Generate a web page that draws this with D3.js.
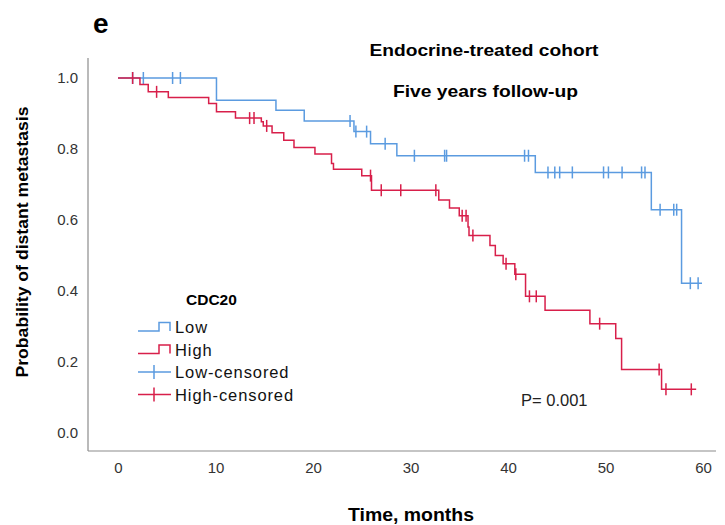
<!DOCTYPE html>
<html>
<head>
<meta charset="utf-8">
<script src="https://cdn.jsdelivr.net/npm/d3@7"></script>
<style>
  html, body { margin: 0; padding: 0; background: #fff; }
  svg { display: block; font-family: "Liberation Sans", Arial, sans-serif; }
</style>
</head>
<body>
<svg id="chart" width="725" height="525"></svg>
<script>
// Kaplan-Meier estimates: event times (months) and survival level after each step
const lowTimes  = [0, 10.1, 16.2, 19.1, 24.2, 25.9, 28.6, 42.8, 54.7, 57.8];
const lowValues = [1.0, 0.937, 0.909, 0.879, 0.849, 0.815, 0.781, 0.734, 0.629, 0.422];
const lowEnd = 59.9;
const lowCensored = [1.5, 2.6, 5.6, 6.4, 23.8, 24.4, 25.5, 27.4, 30.4, 33.5, 33.7, 41.7, 42.1,
  44.1, 44.8, 45.3, 46.6, 49.8, 50.3, 51.7, 53.7, 54.05, 55.6, 57.0, 57.3, 58.7, 59.5];

const highTimes  = [0, 2.25, 3.1, 5.16, 9.3, 10.1, 12.05, 14.7, 14.9, 15.8, 17.0, 18.05, 20.2,
  21.9, 22.1, 25.0, 26.0, 32.9, 34.0, 35.0, 35.9, 36.0, 38.15, 38.7, 39.5, 40.7, 41.8, 43.8,
  48.4, 51.05, 51.65, 55.75];
const highValues = [1.0, 0.982, 0.961, 0.945, 0.928, 0.905, 0.887, 0.877, 0.865, 0.846, 0.825,
  0.804, 0.786, 0.759, 0.743, 0.725, 0.684, 0.656, 0.634, 0.612, 0.580, 0.556, 0.528, 0.5,
  0.477, 0.447, 0.385, 0.346, 0.308, 0.266, 0.179, 0.123];
const highEnd = 59.3;
const highCensored = [1.5, 3.96, 13.5, 13.95, 15.25, 25.9, 27.0, 29.0, 32.6, 35.3, 35.7, 36.4,
  39.8, 40.8, 42.2, 42.9, 49.4, 55.5, 56.2, 58.8];

const xTicks = [0, 10, 20, 30, 40, 50, 60];
const yTicks = [0, 0.2, 0.4, 0.6, 0.8, 1.0];

const groups = [
  { name: "Low",  color: "#5b9be0", times: lowTimes,  values: lowValues,  end: lowEnd,  censored: lowCensored },
  { name: "High", color: "#d81f4a", times: highTimes, values: highValues, end: highEnd, censored: highCensored }
];

const svg = d3.select("#chart");
const x = d3.scaleLinear().domain([0, 60]).range([118, 703]);
const y = d3.scaleLinear().domain([0, 1]).range([433, 78]);

const axisColor = "#8c8c8c";
const axisX0 = 88, axisY0 = 451;

// Frame lines (left and bottom)
svg.append("line").attr("x1", axisX0).attr("x2", axisX0).attr("y1", 58).attr("y2", axisY0)
  .attr("stroke", axisColor).attr("stroke-width", 1.2);
svg.append("line").attr("x1", axisX0).attr("x2", 716).attr("y1", axisY0).attr("y2", axisY0)
  .attr("stroke", axisColor).attr("stroke-width", 1.2);

// Axes (labels only)
const yAxis = svg.append("g").attr("transform", `translate(${axisX0},0)`)
  .call(d3.axisLeft(y).tickValues(yTicks).tickSize(0).tickPadding(10).tickFormat(d3.format(".1f")));
const xAxis = svg.append("g").attr("transform", `translate(0,${axisY0})`)
  .call(d3.axisBottom(x).tickValues(xTicks).tickSize(0).tickPadding(11).tickFormat(d3.format("d")));
[yAxis, xAxis].forEach(g => {
  g.select(".domain").remove();
  g.selectAll("text").attr("font-size", 15).attr("fill", "#333")
    .attr("font-family", "'Liberation Sans', Arial, sans-serif");
});

// Step value at time t
function levelAt(g, t) {
  let v = g.values[0];
  for (let i = 0; i < g.times.length; i++) if (g.times[i] <= t) v = g.values[i];
  return v;
}

const stepLine = d3.line().x(d => x(d[0])).y(d => y(d[1])).curve(d3.curveStepAfter);

groups.forEach(g => {
  const pts = g.times.map((t, i) => [t, g.values[i]]);
  pts.push([g.end, g.values[g.values.length - 1]]);
  svg.append("path").datum(pts).attr("d", stepLine)
    .attr("fill", "none").attr("stroke", g.color).attr("stroke-width", 1.5);
  svg.append("g").selectAll("line").data(g.censored).join("line")
    .attr("x1", d => x(d)).attr("x2", d => x(d))
    .attr("y1", d => y(levelAt(g, d)) - 6).attr("y2", d => y(levelAt(g, d)) + 6)
    .attr("stroke", g.color).attr("stroke-width", 1.5);
});

// Titles
svg.append("text").attr("x", 93).attr("y", 33).text("e")
  .attr("font-size", 28).attr("font-weight", "bold").attr("fill", "#000");
svg.append("text").attr("x", 484).attr("y", 56).attr("text-anchor", "middle")
  .attr("textLength", 229).attr("lengthAdjust", "spacingAndGlyphs")
  .text("Endocrine-treated cohort").attr("font-size", 17).attr("font-weight", "bold");
svg.append("text").attr("x", 485.5).attr("y", 97).attr("text-anchor", "middle")
  .attr("textLength", 185).attr("lengthAdjust", "spacingAndGlyphs")
  .text("Five years follow-up").attr("font-size", 17).attr("font-weight", "bold");
svg.append("text").attr("transform", "translate(28,242) rotate(-90)").attr("text-anchor", "middle")
  .attr("textLength", 271).attr("lengthAdjust", "spacingAndGlyphs")
  .text("Probability of distant metastasis").attr("font-size", 16.5).attr("font-weight", "bold");
svg.append("text").attr("x", 411).attr("y", 521).attr("text-anchor", "middle")
  .attr("textLength", 126).attr("lengthAdjust", "spacingAndGlyphs")
  .text("Time, months").attr("font-size", 18).attr("font-weight", "bold");
svg.append("text").attr("x", 521).attr("y", 406).text("P= 0.001")
  .attr("font-size", 16.5).attr("fill", "#222");

// Legend
const legend = svg.append("g");
legend.append("text").attr("x", 186).attr("y", 305).text("CDC20")
  .attr("font-size", 15.5).attr("font-weight", "bold");
const legendItems = [
  { label: "Low",  color: groups[0].color, type: "step" },
  { label: "High", color: groups[1].color, type: "step" },
  { label: "Low-censored",  color: groups[0].color, type: "cross" },
  { label: "High-censored", color: groups[1].color, type: "cross" }
];
legendItems.forEach((d, i) => {
  const cy = 327 + i * 22.5;
  if (d.type === "step") {
    legend.append("path")
      .attr("d", `M138,${cy + 4}H159V${cy - 4.5}H170V${cy + 4}`)
      .attr("fill", "none").attr("stroke", d.color).attr("stroke-width", 1.5);
  } else {
    legend.append("path")
      .attr("d", `M138,${cy}H171M154,${cy - 7}V${cy + 7}`)
      .attr("fill", "none").attr("stroke", d.color).attr("stroke-width", 1.5);
  }
  legend.append("text").attr("x", 175).attr("y", cy + 6).text(d.label)
    .attr("font-size", 16.5).attr("letter-spacing", 0.9).attr("fill", "#111");
});
</script>
</body>
</html>
